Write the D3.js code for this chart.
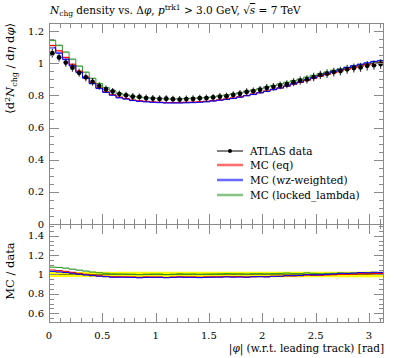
<!DOCTYPE html>
<html><head><meta charset="utf-8">
<script src="https://cdn.jsdelivr.net/npm/d3@7"></script>
<style>
body{margin:0;background:#fff}
svg{display:block}
text{font-family:"DejaVu Serif","Liberation Serif",serif;fill:#000}
</style></head><body>
<svg id="c" width="397" height="358"></svg>
<script>
// ---- data ----
const binCount = 50;
const xMax = Math.PI;
const dataVals = [1.062,1.036,1.004,0.972,0.940,0.912,0.884,0.858,0.838,0.824,0.808,0.800,0.792,0.790,0.783,0.780,0.778,0.779,0.776,0.774,0.777,0.778,0.782,0.783,0.787,0.792,0.795,0.803,0.810,0.821,0.826,0.835,0.846,0.853,0.862,0.869,0.882,0.892,0.899,0.914,0.927,0.935,0.945,0.951,0.962,0.970,0.974,0.984,0.988,0.995];
const dataErrs = [0.027,0.026,0.026,0.025,0.025,0.024,0.024,0.023,0.023,0.022,0.022,0.022,0.022,0.022,0.022,0.022,0.022,0.022,0.022,0.022,0.022,0.022,0.022,0.022,0.022,0.022,0.022,0.023,0.023,0.023,0.023,0.023,0.024,0.024,0.024,0.025,0.025,0.025,0.026,0.026,0.026,0.027,0.027,0.027,0.028,0.028,0.028,0.029,0.029,0.029];
const mcEq = [1.110,1.077,1.036,0.993,0.951,0.914,0.878,0.846,0.822,0.804,0.789,0.780,0.771,0.767,0.763,0.759,0.757,0.755,0.755,0.755,0.757,0.758,0.760,0.763,0.767,0.772,0.778,0.784,0.791,0.799,0.808,0.817,0.827,0.837,0.846,0.857,0.869,0.880,0.893,0.906,0.919,0.930,0.942,0.953,0.963,0.973,0.982,0.991,0.998,1.005];
const mcWz = [1.096,1.063,1.024,0.984,0.943,0.907,0.873,0.843,0.819,0.801,0.785,0.777,0.768,0.763,0.760,0.757,0.755,0.753,0.753,0.753,0.754,0.755,0.757,0.760,0.765,0.770,0.775,0.781,0.789,0.798,0.806,0.816,0.825,0.836,0.846,0.858,0.871,0.883,0.897,0.910,0.924,0.937,0.950,0.962,0.973,0.984,0.993,1.002,1.010,1.016];
const mcLocked = [1.142,1.111,1.069,1.025,0.982,0.944,0.906,0.873,0.848,0.829,0.812,0.803,0.794,0.789,0.785,0.783,0.781,0.778,0.778,0.779,0.780,0.782,0.784,0.786,0.791,0.797,0.802,0.809,0.816,0.825,0.833,0.842,0.852,0.861,0.871,0.881,0.891,0.901,0.913,0.924,0.935,0.945,0.956,0.965,0.974,0.982,0.989,0.996,1.002,1.007];
const mcRelErr = [0.006,0.006,0.006,0.006,0.006];
const seriesNames = ["MC (eq)","MC (wz-weighted)","MC (locked_lambda)"];
const seriesColors = ["#ff0000","#0000ff","#2f9a2f"];
const xTicks = [0,0.5,1,1.5,2,2.5,3];
const xTickLabels = ["0","0.5","1","1.5","2","2.5","3"];
const yTicksMain = [0,0.2,0.4,0.6,0.8,1,1.2];
const yTickLabelsMain = ["0","0.2","0.4","0.6","0.8","1","1.2"];
const yTicksRatio = [0.6,0.8,1,1.2,1.4];
const yTickLabelsRatio = ["0.6","0.8","1","1.2","1.4"];

// ---- layout ----
const L = 49, R = 384, T = 23, MB = 224, RB = 323;
const svg = d3.select("#c");
const x = d3.scaleLinear().domain([0, xMax]).range([L, R]);
const y = d3.scaleLinear().domain([0, 1.25]).range([MB, T]);
const yr = d3.scaleLinear().domain([0.5, 1.52]).range([RB, MB]);
const edges = d3.range(binCount + 1).map(i => i * xMax / binCount);
const centers = d3.range(binCount).map(i => (edges[i] + edges[i + 1]) / 2);
const frameCol = "#8a8a8a";

const defs = svg.append("defs");
defs.append("clipPath").attr("id","cm").append("rect").attr("x",L).attr("y",T).attr("width",R-L).attr("height",MB-T);
defs.append("clipPath").attr("id","cr").append("rect").attr("x",L).attr("y",MB).attr("width",R-L).attr("height",RB-MB);

function stepPts(vals) {
  const p = [];
  vals.forEach((v, i) => { p.push([edges[i], v]); p.push([edges[i + 1], v]); });
  return p;
}
function bandPts(vals, lo, hi) {
  const p = [];
  vals.forEach((v, i) => { p.push({x: edges[i], lo: lo[i], hi: hi[i]}); p.push({x: edges[i + 1], lo: lo[i], hi: hi[i]}); });
  return p;
}

const mcSeries = [mcEq, mcWz, mcLocked];
const relE = i => mcRelErr[i % mcRelErr.length];

// ---- main panel ----
const gm = svg.append("g").attr("clip-path","url(#cm)");
[2,0,1].forEach(s => {
  const v = mcSeries[s];
  const area = d3.area().x(d => x(d.x)).y0(d => y(d.lo)).y1(d => y(d.hi));
  gm.append("path").attr("d", area(bandPts(v, v.map((a,i)=>a*(1-relE(i))), v.map((a,i)=>a*(1+relE(i))))))
    .attr("fill", seriesColors[s]).attr("opacity", 0.3);
});
const lineM = d3.line().x(d => x(d[0])).y(d => y(d[1]));
[2,0,1].forEach(s => {
  gm.append("path").attr("d", lineM(stepPts(mcSeries[s]))).attr("fill","none")
    .attr("stroke", seriesColors[s]).attr("stroke-width", 1);
});
dataVals.forEach((v, i) => {
  gm.append("line").attr("x1", x(centers[i])).attr("x2", x(centers[i]))
    .attr("y1", y(v - dataErrs[i])).attr("y2", y(v + dataErrs[i]))
    .attr("stroke","#000").attr("stroke-width",1.2).attr("opacity",0.75);
  gm.append("circle").attr("cx", x(centers[i])).attr("cy", y(v)).attr("r", 2.4).attr("fill","#000");
});

// ---- ratio panel ----
const gr = svg.append("g").attr("clip-path","url(#cr)");
const areaR = d3.area().x(d => x(d.x)).y0(d => yr(d.lo)).y1(d => yr(d.hi));
gr.append("path").attr("d", areaR(bandPts(dataVals, dataVals.map((v,i)=>1-dataErrs[i]/v), dataVals.map((v,i)=>1+dataErrs[i]/v))))
  .attr("fill","#ffff00");
const ratios = mcSeries.map(s => s.map((v,i) => v / dataVals[i]));
[2,0,1].forEach(s => {
  const r = ratios[s];
  gr.append("path").attr("d", areaR(bandPts(r, r.map((a,i)=>a*(1-relE(i))), r.map((a,i)=>a*(1+relE(i))))))
    .attr("fill", seriesColors[s]).attr("opacity", 0.3);
});
gr.append("line").attr("x1",L).attr("x2",R).attr("y1",yr(1)).attr("y2",yr(1)).attr("stroke","#000").attr("stroke-width",0.8).attr("opacity",0.6);
const lineR = d3.line().x(d => x(d[0])).y(d => yr(d[1]));
[2,0,1].forEach(s => {
  gr.append("path").attr("d", lineR(stepPts(ratios[s]))).attr("fill","none")
    .attr("stroke", seriesColors[s]).attr("stroke-width", 1);
});

// ---- frames & ticks ----
const gf = svg.append("g").attr("stroke", frameCol).attr("fill","none").attr("stroke-width",1);
gf.append("rect").attr("x",L+0.5).attr("y",T+0.5).attr("width",R-L-1).attr("height",RB-T-1);
gf.append("line").attr("x1",L).attr("x2",R).attr("y1",MB+0.5).attr("y2",MB+0.5);

const xMinor = d3.range(0, 3.15, 0.1);
function xTicksAt(yPos, dir) {
  xMinor.forEach(t => {
    const isMaj = xTicks.some(m => Math.abs(m - t) < 1e-6);
    const len = isMaj ? 10 : 5;
    const px = Math.round(x(t)) + 0.5;
    gf.append("line").attr("x1",px).attr("x2",px).attr("y1",yPos).attr("y2",yPos + dir*len);
  });
}
xTicksAt(T, 1);
xTicksAt(MB, -1);
xTicksAt(MB, 1);
xTicksAt(RB, -1);

function yTicksAt(scale, lo, hi, majors) {
  const minors = d3.range(lo, hi + 1e-9, 0.05);
  minors.forEach(t => {
    const isMaj = majors.some(m => Math.abs(m - t) < 1e-6);
    const len = isMaj ? 10 : 5;
    const py = Math.round(scale(t)) + 0.5;
    gf.append("line").attr("x1",L).attr("x2",L+len).attr("y1",py).attr("y2",py);
    gf.append("line").attr("x1",R).attr("x2",R-len).attr("y1",py).attr("y2",py);
  });
}
yTicksAt(y, 0.05, 1.25, yTicksMain);
yTicksAt(yr, 0.55, 1.5, yTicksRatio);

// ---- labels ----
const fs = 10;
yTicksMain.forEach((t,i) => {
  svg.append("text").attr("x", 44).attr("y", y(t) + 3.5).attr("text-anchor","end").attr("font-size",fs).text(yTickLabelsMain[i]);
});
yTicksRatio.forEach((t,i) => {
  svg.append("text").attr("x", 44).attr("y", yr(t) + 3.5).attr("text-anchor","end").attr("font-size",fs).text(yTickLabelsRatio[i]);
});
xTicks.forEach((t,i) => {
  svg.append("text").attr("x", x(t)).attr("y", 339).attr("text-anchor","middle").attr("font-size",fs).text(xTickLabels[i]);
});
// title
const title = svg.append("text").attr("x", 50).attr("y", 14).attr("font-size", 10.5);
title.append("tspan").attr("font-style","italic").text("N");
title.append("tspan").attr("font-size",7.5).attr("dy",2).text("chg");
title.append("tspan").attr("dy",-2).text(" density vs. Δ");
title.append("tspan").attr("font-style","italic").text("φ");
title.append("tspan").text(", ");
title.append("tspan").attr("font-style","italic").text("p");
title.append("tspan").attr("font-size",7.5).attr("dy",-4).text("trk1");
title.append("tspan").attr("dy",4).text(" > 3.0 GeV, √");
title.append("tspan").attr("font-style","italic").attr("text-decoration","overline").text("s");
title.append("tspan").text(" = 7 TeV");

// y label main
const yl = svg.append("text").attr("transform","translate(14,23) rotate(-90)").attr("text-anchor","end").attr("font-size",11.5);
yl.append("tspan").text("⟨d");
yl.append("tspan").attr("font-size",8).attr("dy",-4).text("2");
yl.append("tspan").attr("font-style","italic").attr("dy",4).text("N");
yl.append("tspan").attr("font-size",8).attr("dy",2.5).text("chg");
yl.append("tspan").attr("dy",-2.5).text(" / d");
yl.append("tspan").attr("font-style","italic").text("η");
yl.append("tspan").text(" d");
yl.append("tspan").attr("font-style","italic").text("φ");
yl.append("tspan").text("⟩");
// y label ratio
svg.append("text").attr("transform","translate(14,271) rotate(-90)").attr("text-anchor","middle").attr("font-size",11.5).text("MC / data");
// x label
const xl = svg.append("text").attr("x", 384).attr("y", 352).attr("text-anchor","end").attr("font-size",10.5);
xl.append("tspan").text("|");
xl.append("tspan").attr("font-style","italic").text("φ");
xl.append("tspan").text("| (w.r.t. leading track) [rad]");

// legend
const legY = [151, 165, 180, 195];
const lg = svg.append("g");
lg.append("line").attr("x1",217).attr("x2",243).attr("y1",legY[0]).attr("y2",legY[0]).attr("stroke","#000").attr("stroke-width",1);
lg.append("circle").attr("cx",230).attr("cy",legY[0]).attr("r",2).attr("fill","#000");
lg.append("text").attr("x",250).attr("y",legY[0]+3.5).attr("font-size",10.5).text("ATLAS data");
seriesNames.forEach((n,i) => {
  lg.append("rect").attr("x",217).attr("y",legY[i+1]-1.5).attr("width",26).attr("height",3).attr("fill",seriesColors[i]).attr("opacity",0.3);
  lg.append("line").attr("x1",217).attr("x2",243).attr("y1",legY[i+1]).attr("y2",legY[i+1]).attr("stroke",seriesColors[i]).attr("stroke-width",1).attr("opacity",0.8);
  lg.append("text").attr("x",250).attr("y",legY[i+1]+3.5).attr("font-size",10.5).text(n);
});
</script>
</body></html>
